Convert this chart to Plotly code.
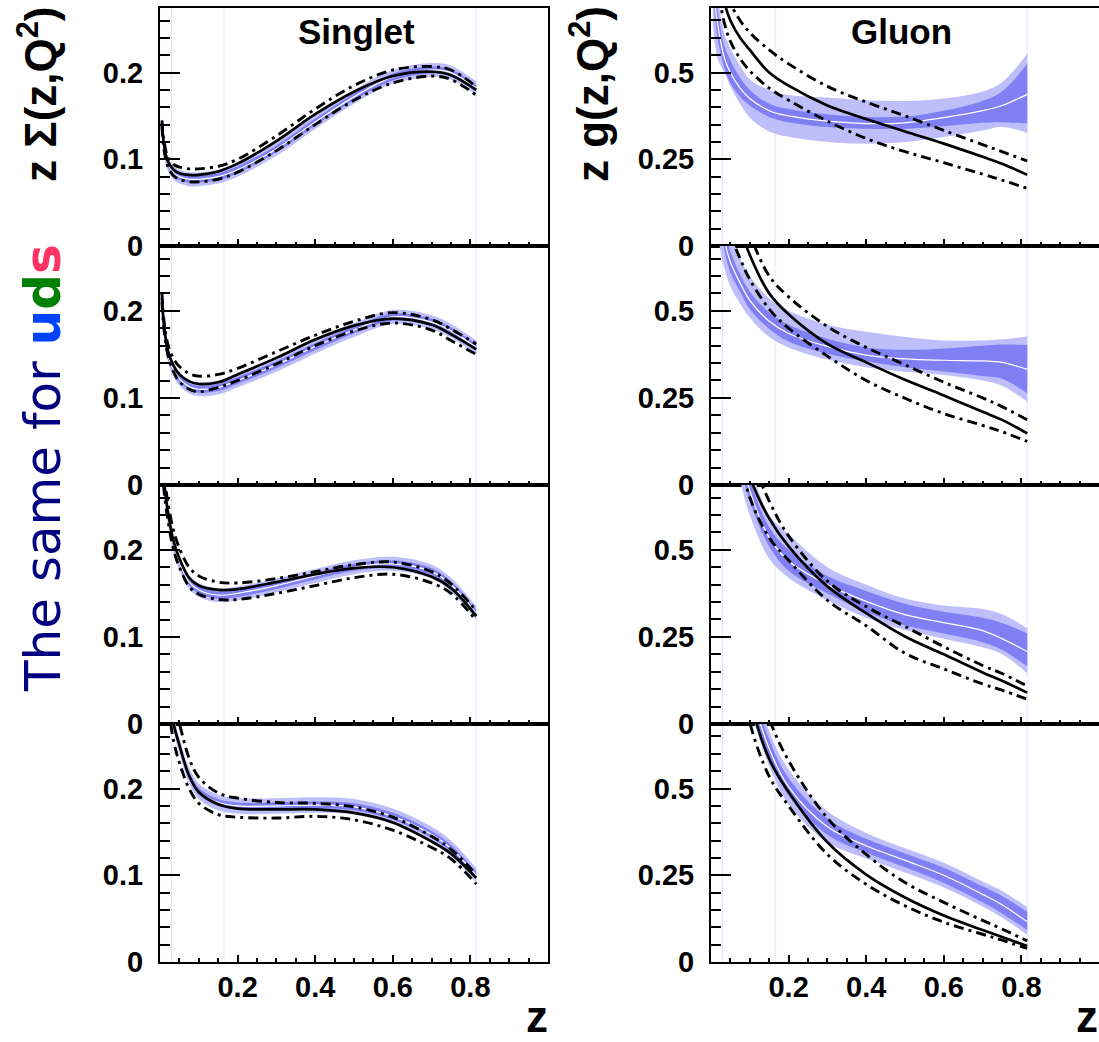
import plotly.graph_objects as go

W, H = 1099, 1042

# ---------------- data ----------------
x_grid = [0.005, 0.01, 0.02, 0.035, 0.05, 0.075, 0.1, 0.15, 0.2, 0.3, 0.4, 0.5, 0.6, 0.7, 0.75, 0.815]

# Singlet, row 1
s1_center = [0.140, 0.115, 0.095, 0.084, 0.080, 0.077, 0.077, 0.080, 0.088, 0.112, 0.143, 0.172, 0.195, 0.203, 0.200, 0.182]
s1_in_hi  = [0.145, 0.119, 0.099, 0.088, 0.084, 0.081, 0.081, 0.084, 0.092, 0.116, 0.147, 0.176, 0.199, 0.207, 0.204, 0.186]
s1_in_lo  = [0.135, 0.111, 0.091, 0.080, 0.076, 0.073, 0.073, 0.076, 0.084, 0.108, 0.139, 0.168, 0.191, 0.199, 0.196, 0.178]
s1_out_hi = [0.152, 0.124, 0.103, 0.092, 0.088, 0.085, 0.085, 0.088, 0.096, 0.120, 0.151, 0.180, 0.203, 0.211, 0.208, 0.190]
s1_out_lo = [0.128, 0.106, 0.087, 0.076, 0.072, 0.069, 0.069, 0.072, 0.080, 0.104, 0.135, 0.164, 0.187, 0.195, 0.192, 0.174]
s1_solid  = [0.142, 0.118, 0.098, 0.088, 0.084, 0.082, 0.082, 0.086, 0.095, 0.121, 0.152, 0.178, 0.196, 0.201, 0.197, 0.180]
s1_dd_up  = [0.145, 0.122, 0.103, 0.094, 0.091, 0.089, 0.089, 0.092, 0.100, 0.127, 0.158, 0.185, 0.203, 0.207, 0.203, 0.184]
s1_dd_lo  = [0.138, 0.112, 0.092, 0.081, 0.077, 0.074, 0.074, 0.077, 0.085, 0.110, 0.140, 0.168, 0.188, 0.196, 0.192, 0.174]

# Singlet, row 2
s2_center = [0.210, 0.180, 0.150, 0.132, 0.122, 0.113, 0.110, 0.112, 0.120, 0.138, 0.159, 0.178, 0.193, 0.187, 0.177, 0.158]
s2_in_hi  = [0.214, 0.184, 0.154, 0.136, 0.126, 0.117, 0.114, 0.116, 0.124, 0.142, 0.163, 0.182, 0.197, 0.191, 0.181, 0.162]
s2_in_lo  = [0.206, 0.176, 0.146, 0.128, 0.118, 0.109, 0.106, 0.108, 0.116, 0.134, 0.155, 0.174, 0.189, 0.183, 0.173, 0.154]
s2_out_hi = [0.220, 0.188, 0.158, 0.140, 0.130, 0.121, 0.118, 0.120, 0.128, 0.146, 0.167, 0.186, 0.201, 0.195, 0.185, 0.166]
s2_out_lo = [0.200, 0.172, 0.142, 0.124, 0.114, 0.105, 0.102, 0.104, 0.112, 0.130, 0.151, 0.170, 0.185, 0.179, 0.169, 0.150]
s2_solid  = [0.215, 0.185, 0.155, 0.137, 0.127, 0.119, 0.116, 0.118, 0.127, 0.146, 0.167, 0.183, 0.191, 0.184, 0.173, 0.156]
s2_dd_up  = [0.220, 0.190, 0.162, 0.145, 0.136, 0.128, 0.125, 0.127, 0.134, 0.153, 0.172, 0.188, 0.198, 0.190, 0.179, 0.162]
s2_dd_lo  = [0.210, 0.180, 0.150, 0.130, 0.119, 0.110, 0.107, 0.112, 0.120, 0.139, 0.160, 0.177, 0.186, 0.178, 0.166, 0.150]

# Singlet, row 3
s3_center = [0.300, 0.275, 0.238, 0.205, 0.185, 0.163, 0.154, 0.148, 0.150, 0.159, 0.170, 0.180, 0.184, 0.175, 0.160, 0.127]
s3_in_hi  = [0.304, 0.279, 0.242, 0.209, 0.189, 0.167, 0.158, 0.152, 0.154, 0.163, 0.174, 0.184, 0.188, 0.179, 0.164, 0.131]
s3_in_lo  = [0.296, 0.271, 0.234, 0.201, 0.181, 0.159, 0.150, 0.144, 0.146, 0.155, 0.166, 0.176, 0.180, 0.171, 0.156, 0.123]
s3_out_hi = [0.308, 0.283, 0.246, 0.213, 0.193, 0.171, 0.162, 0.156, 0.158, 0.167, 0.178, 0.188, 0.192, 0.183, 0.168, 0.135]
s3_out_lo = [0.292, 0.267, 0.230, 0.197, 0.177, 0.155, 0.146, 0.140, 0.142, 0.151, 0.162, 0.172, 0.176, 0.167, 0.152, 0.119]
s3_solid  = [0.310, 0.280, 0.245, 0.210, 0.190, 0.168, 0.159, 0.154, 0.155, 0.163, 0.172, 0.179, 0.180, 0.169, 0.156, 0.124]
s3_dd_up  = [0.320, 0.290, 0.255, 0.222, 0.202, 0.180, 0.170, 0.163, 0.162, 0.167, 0.175, 0.183, 0.186, 0.175, 0.161, 0.130]
s3_dd_lo  = [0.300, 0.270, 0.235, 0.200, 0.180, 0.158, 0.149, 0.143, 0.143, 0.150, 0.159, 0.168, 0.172, 0.162, 0.150, 0.119]

# Singlet, row 4
s4_center = [0.400, 0.360, 0.320, 0.275, 0.250, 0.215, 0.197, 0.184, 0.180, 0.180, 0.181, 0.179, 0.168, 0.147, 0.131, 0.100]
s4_in_hi  = [0.404, 0.364, 0.324, 0.279, 0.254, 0.219, 0.201, 0.188, 0.184, 0.184, 0.185, 0.183, 0.172, 0.151, 0.135, 0.104]
s4_in_lo  = [0.396, 0.356, 0.316, 0.271, 0.246, 0.211, 0.193, 0.180, 0.176, 0.176, 0.177, 0.175, 0.164, 0.143, 0.127, 0.096]
s4_out_hi = [0.410, 0.370, 0.330, 0.284, 0.259, 0.224, 0.206, 0.193, 0.189, 0.189, 0.190, 0.188, 0.177, 0.156, 0.140, 0.108]
s4_out_lo = [0.390, 0.350, 0.310, 0.266, 0.241, 0.206, 0.188, 0.175, 0.171, 0.171, 0.172, 0.170, 0.159, 0.138, 0.122, 0.092]
s4_solid  = [0.400, 0.360, 0.320, 0.275, 0.250, 0.215, 0.196, 0.182, 0.177, 0.176, 0.176, 0.172, 0.161, 0.139, 0.125, 0.097]
s4_dd_up  = [0.430, 0.390, 0.350, 0.300, 0.275, 0.235, 0.213, 0.195, 0.189, 0.184, 0.183, 0.179, 0.167, 0.145, 0.130, 0.101]
s4_dd_lo  = [0.380, 0.340, 0.300, 0.255, 0.230, 0.200, 0.183, 0.170, 0.167, 0.166, 0.168, 0.164, 0.152, 0.132, 0.119, 0.090]

# Gluon, row 1
g1_center = [0.78, 0.70, 0.62, 0.54, 0.50, 0.455, 0.425, 0.39, 0.375, 0.36, 0.353, 0.355, 0.37, 0.39, 0.405, 0.437]
g1_in_hi  = [0.82, 0.74, 0.66, 0.575, 0.535, 0.485, 0.45, 0.41, 0.395, 0.38, 0.372, 0.373, 0.39, 0.418, 0.445, 0.525]
g1_in_lo  = [0.74, 0.66, 0.58, 0.51, 0.47, 0.43, 0.405, 0.372, 0.357, 0.343, 0.338, 0.338, 0.345, 0.355, 0.357, 0.353]
g1_out_hi = [0.86, 0.78, 0.70, 0.61, 0.57, 0.52, 0.48, 0.45, 0.435, 0.428, 0.42, 0.418, 0.425, 0.445, 0.472, 0.554]
g1_out_lo = [0.64, 0.58, 0.53, 0.50, 0.46, 0.41, 0.37, 0.33, 0.315, 0.30, 0.295, 0.30, 0.314, 0.333, 0.343, 0.326]
g1_solid  = [1.00, 0.92, 0.80, 0.70, 0.65, 0.60, 0.565, 0.50, 0.462, 0.405, 0.366, 0.330, 0.295, 0.257, 0.237, 0.205]
g1_dd_up  = [1.05, 0.98, 0.86, 0.75, 0.70, 0.65, 0.615, 0.565, 0.525, 0.46, 0.415, 0.375, 0.333, 0.292, 0.272, 0.245]
g1_dd_lo  = [0.92, 0.84, 0.73, 0.64, 0.59, 0.54, 0.505, 0.455, 0.42, 0.36, 0.31, 0.272, 0.240, 0.207, 0.190, 0.166]

# Gluon, row 2
g2_center = [1.00, 0.92, 0.80, 0.70, 0.64, 0.58, 0.53, 0.47, 0.435, 0.398, 0.373, 0.362, 0.358, 0.356, 0.352, 0.332]
g2_in_hi  = [1.03, 0.95, 0.83, 0.73, 0.67, 0.605, 0.555, 0.495, 0.46, 0.42, 0.395, 0.388, 0.392, 0.40, 0.403, 0.402]
g2_in_lo  = [0.97, 0.89, 0.77, 0.67, 0.61, 0.555, 0.505, 0.448, 0.412, 0.377, 0.355, 0.338, 0.326, 0.313, 0.305, 0.2635]
g2_out_hi = [1.10, 1.00, 0.88, 0.78, 0.72, 0.65, 0.60, 0.535, 0.50, 0.46, 0.44, 0.425, 0.415, 0.415, 0.418, 0.426]
g2_out_lo = [0.90, 0.82, 0.70, 0.62, 0.57, 0.52, 0.48, 0.425, 0.395, 0.36, 0.338, 0.325, 0.316, 0.30, 0.285, 0.239]
g2_solid  = [1.30, 1.20, 1.05, 0.92, 0.84, 0.74, 0.66, 0.55, 0.49, 0.405, 0.352, 0.302, 0.257, 0.21, 0.187, 0.148]
g2_dd_up  = [1.40, 1.30, 1.15, 1.00, 0.92, 0.81, 0.72, 0.60, 0.54, 0.455, 0.395, 0.345, 0.295, 0.25, 0.225, 0.187]
g2_dd_lo  = [1.20, 1.10, 0.95, 0.80, 0.72, 0.65, 0.59, 0.505, 0.45, 0.37, 0.30, 0.249, 0.205, 0.171, 0.153, 0.125]

# Gluon, row 3
g3_center = [1.90, 1.70, 1.40, 1.15, 0.96, 0.78, 0.67, 0.535, 0.468, 0.40, 0.352, 0.314, 0.291, 0.268, 0.245, 0.208]
g3_in_hi  = [2.00, 1.80, 1.50, 1.20, 1.00, 0.81, 0.70, 0.565, 0.50, 0.425, 0.382, 0.345, 0.322, 0.305, 0.29, 0.26]
g3_in_lo  = [1.80, 1.60, 1.30, 1.10, 0.92, 0.75, 0.64, 0.51, 0.44, 0.375, 0.322, 0.283, 0.26, 0.235, 0.213, 0.165]
g3_out_hi = [2.10, 1.90, 1.60, 1.30, 1.10, 0.87, 0.75, 0.60, 0.545, 0.45, 0.40, 0.36, 0.34, 0.33, 0.315, 0.275]
g3_out_lo = [1.70, 1.50, 1.20, 1.00, 0.85, 0.70, 0.60, 0.475, 0.42, 0.355, 0.305, 0.27, 0.245, 0.22, 0.20, 0.146]
g3_solid  = [2.00, 1.80, 1.50, 1.20, 1.00, 0.82, 0.71, 0.59, 0.51, 0.395, 0.318, 0.251, 0.200, 0.148, 0.124, 0.09]
g3_dd_up  = [2.10, 1.90, 1.60, 1.30, 1.10, 0.90, 0.78, 0.64, 0.54, 0.41, 0.337, 0.280, 0.222, 0.168, 0.145, 0.109]
g3_dd_lo  = [1.90, 1.70, 1.40, 1.10, 0.92, 0.76, 0.65, 0.535, 0.47, 0.355, 0.282, 0.203, 0.158, 0.115, 0.097, 0.071]

# Gluon, row 4
g4_center = [3.10, 2.70, 2.10, 1.60, 1.30, 0.98, 0.80, 0.615, 0.505, 0.39, 0.335, 0.293, 0.25, 0.195, 0.165, 0.116]
g4_in_hi  = [3.20, 2.80, 2.20, 1.65, 1.33, 1.01, 0.83, 0.642, 0.53, 0.413, 0.355, 0.313, 0.272, 0.218, 0.19, 0.145]
g4_in_lo  = [3.00, 2.60, 2.00, 1.55, 1.27, 0.95, 0.77, 0.588, 0.48, 0.367, 0.315, 0.273, 0.228, 0.172, 0.14, 0.092]
g4_out_hi = [3.30, 2.90, 2.30, 1.70, 1.40, 1.05, 0.86, 0.665, 0.555, 0.435, 0.372, 0.328, 0.286, 0.232, 0.205, 0.158]
g4_out_lo = [2.90, 2.50, 1.90, 1.50, 1.20, 0.91, 0.74, 0.565, 0.455, 0.345, 0.298, 0.258, 0.215, 0.16, 0.128, 0.078]
g4_solid  = [3.00, 2.60, 2.00, 1.50, 1.20, 0.92, 0.76, 0.585, 0.49, 0.345, 0.252, 0.186, 0.134, 0.092, 0.072, 0.046]
g4_dd_up  = [3.20, 2.80, 2.20, 1.70, 1.35, 1.04, 0.87, 0.70, 0.58, 0.415, 0.31, 0.229, 0.172, 0.12, 0.095, 0.061]
g4_dd_lo  = [2.80, 2.40, 1.90, 1.40, 1.10, 0.84, 0.69, 0.535, 0.45, 0.31, 0.224, 0.162, 0.115, 0.08, 0.063, 0.039]

guide_x = [0.03, 0.165, 0.815]

x_tick_vals = [0.2, 0.4, 0.6, 0.8]
x_tick_text = ["0.2", "0.4", "0.6", "0.8"]
s_tick_vals = [0, 0.1, 0.2]
s_tick_text = ["0", "0.1", "0.2"]
g_tick_vals = [0, 0.25, 0.5]
g_tick_text = ["0", "0.25", "0.5"]

panels = [
    dict(kind="s", center=s1_center, in_hi=s1_in_hi, in_lo=s1_in_lo, out_hi=s1_out_hi, out_lo=s1_out_lo, solid=s1_solid, dd_up=s1_dd_up, dd_lo=s1_dd_lo),
    dict(kind="g", center=g1_center, in_hi=g1_in_hi, in_lo=g1_in_lo, out_hi=g1_out_hi, out_lo=g1_out_lo, solid=g1_solid, dd_up=g1_dd_up, dd_lo=g1_dd_lo),
    dict(kind="s", center=s2_center, in_hi=s2_in_hi, in_lo=s2_in_lo, out_hi=s2_out_hi, out_lo=s2_out_lo, solid=s2_solid, dd_up=s2_dd_up, dd_lo=s2_dd_lo),
    dict(kind="g", center=g2_center, in_hi=g2_in_hi, in_lo=g2_in_lo, out_hi=g2_out_hi, out_lo=g2_out_lo, solid=g2_solid, dd_up=g2_dd_up, dd_lo=g2_dd_lo),
    dict(kind="s", center=s3_center, in_hi=s3_in_hi, in_lo=s3_in_lo, out_hi=s3_out_hi, out_lo=s3_out_lo, solid=s3_solid, dd_up=s3_dd_up, dd_lo=s3_dd_lo),
    dict(kind="g", center=g3_center, in_hi=g3_in_hi, in_lo=g3_in_lo, out_hi=g3_out_hi, out_lo=g3_out_lo, solid=g3_solid, dd_up=g3_dd_up, dd_lo=g3_dd_lo),
    dict(kind="s", center=s4_center, in_hi=s4_in_hi, in_lo=s4_in_lo, out_hi=s4_out_hi, out_lo=s4_out_lo, solid=s4_solid, dd_up=s4_dd_up, dd_lo=s4_dd_lo),
    dict(kind="g", center=g4_center, in_hi=g4_in_hi, in_lo=g4_in_lo, out_hi=g4_out_hi, out_lo=g4_out_lo, solid=g4_solid, dd_up=g4_dd_up, dd_lo=g4_dd_lo),
]

# ---------------- style ----------------
LIGHT = "rgb(190,190,250)"
DARK = "rgb(128,128,244)"
FONT = "Liberation Sans, Arial, Helvetica, sans-serif"
DASHDOT = "10px,5px,3px,5px"

rows_px = [(8, 246), (246, 485), (485, 724), (724, 962)]
cols_px = [(160, 548), (711, 1099)]

fig = go.Figure()
layout = dict()
shapes = []

for idx, p in enumerate(panels):
    r, c = divmod(idx, 2)
    n = idx + 1
    xa = "x" if n == 1 else f"x{n}"
    ya = "y" if n == 1 else f"y{n}"

    def add(y, **kw):
        fig.add_trace(go.Scatter(x=x_grid, y=y, xaxis=xa, yaxis=ya, mode="lines",
                                 showlegend=False, hoverinfo="skip", **kw))

    add(p["out_lo"], line=dict(width=0, shape="spline", color=LIGHT))
    add(p["out_hi"], line=dict(width=0, shape="spline", color=LIGHT), fill="tonexty", fillcolor=LIGHT)
    add(p["in_lo"], line=dict(width=0, shape="spline", color=DARK))
    add(p["in_hi"], line=dict(width=0, shape="spline", color=DARK), fill="tonexty", fillcolor=DARK)
    add(p["center"], line=dict(width=1.2, shape="spline", color="white"))
    add(p["dd_lo"], line=dict(width=2.9, shape="spline", color="black", dash=DASHDOT))
    add(p["dd_up"], line=dict(width=2.9, shape="spline", color="black", dash=DASHDOT))
    add(p["solid"], line=dict(width=2.7, shape="spline", color="black"))

    x0, x1 = cols_px[c]
    y0, y1 = rows_px[r]
    is_s = p["kind"] == "s"
    xkey = "xaxis" if n == 1 else f"xaxis{n}"
    ykey = "yaxis" if n == 1 else f"yaxis{n}"
    tickfont = dict(family=FONT, size=29, color="black", weight="bold")
    layout[xkey] = dict(
        domain=[x0 / W, x1 / W], range=[0, 1], anchor=ya, automargin=False,
        showgrid=False, zeroline=False, showline=True, mirror=True,
        linecolor="black", linewidth=2,
        ticks="inside", ticklen=7, tickwidth=2, tickcolor="black",
        tickmode="array", tickvals=x_tick_vals, ticktext=x_tick_text,
        showticklabels=(r == 3), tickfont=tickfont, ticklabelstandoff=-2,
        minor=dict(ticks="inside", ticklen=4, tickwidth=1.5, tickcolor="black",
                   tickmode="linear", tick0=0, dtick=0.05, showgrid=False),
    )
    layout[ykey] = dict(
        domain=[1 - y1 / H, 1 - y0 / H], range=[0, 0.2745] if is_s else [0, 0.686],
        anchor=xa, automargin=False, showgrid=False, zeroline=False, showline=True, mirror=True,
        linecolor="black", linewidth=2,
        ticks="inside", ticklen=20, tickwidth=2, tickcolor="black",
        tickmode="array", tickvals=s_tick_vals if is_s else g_tick_vals,
        ticktext=s_tick_text if is_s else g_tick_text,
        tickfont=tickfont, ticklabelstandoff=9,
        minor=dict(ticks="inside", ticklen=10, tickwidth=1.5, tickcolor="black",
                   tickmode="linear", tick0=0, dtick=0.02 if is_s else 0.05, showgrid=False),
    )
    for gx in guide_x:
        shapes.append(dict(type="line", xref=xa, yref=f"{ya} domain", x0=gx, x1=gx, y0=0, y1=1,
                           line=dict(color="rgb(226,226,255)", width=1), layer="below"))


def px(xp):
    return xp / W


def py(yp):
    return 1 - yp / H


annotations = [
    dict(text="<b>Singlet</b>", x=px(356), y=py(32), xref="paper", yref="paper",
         showarrow=False, xanchor="center", yanchor="middle",
         font=dict(family=FONT, size=35, color="black")),
    dict(text="<b>Gluon</b>", x=px(901), y=py(32), xref="paper", yref="paper",
         showarrow=False, xanchor="center", yanchor="middle",
         font=dict(family=FONT, size=35, color="black")),
    dict(text="<b>z \u03a3(z,Q<sup>2</sup>)</b>", x=px(37), y=py(94), xref="paper", yref="paper",
         showarrow=False, xanchor="center", yanchor="middle", textangle=-90,
         font=dict(family=FONT, size=44, color="black")),
    dict(text="<b>z g(z,Q<sup>2</sup>)</b>", x=px(589), y=py(94), xref="paper", yref="paper",
         showarrow=False, xanchor="center", yanchor="middle", textangle=-90,
         font=dict(family=FONT, size=44, color="black")),
    dict(text='<span style="color:#000080">The same for </span>'
              '<b><span style="color:#0044ff">u</span><span style="color:#008000">d</span>'
              '<span style="color:#ff3366">s</span></b>',
         x=px(43), y=py(468), xref="paper", yref="paper",
         showarrow=False, xanchor="center", yanchor="middle", textangle=-90,
         font=dict(family="DejaVu Sans, Verdana, sans-serif", size=50, color="#000080")),
    dict(text="<b>z</b>", x=px(549), y=0, xref="paper", yref="paper",
         showarrow=False, xanchor="right", yanchor="bottom", borderpad=0,
         font=dict(family=FONT, size=44, color="black")),
    dict(text="<b>z</b>", x=1.0, y=0, xref="paper", yref="paper",
         showarrow=False, xanchor="right", yanchor="bottom", borderpad=0,
         font=dict(family=FONT, size=44, color="black")),
]

fig.update_layout(
    width=W, height=H, autosize=False,
    margin=dict(l=0, r=0, t=0, b=0, pad=0, autoexpand=False),
    paper_bgcolor="white", plot_bgcolor="white",
    shapes=shapes, annotations=annotations,
    **layout,
)

fig.write_html(
    "out.html",
    config={"displayModeBar": False},
    post_script="document.body.style.margin='0';document.body.style.padding='0';"
                "document.body.style.overflow='hidden';",
)
